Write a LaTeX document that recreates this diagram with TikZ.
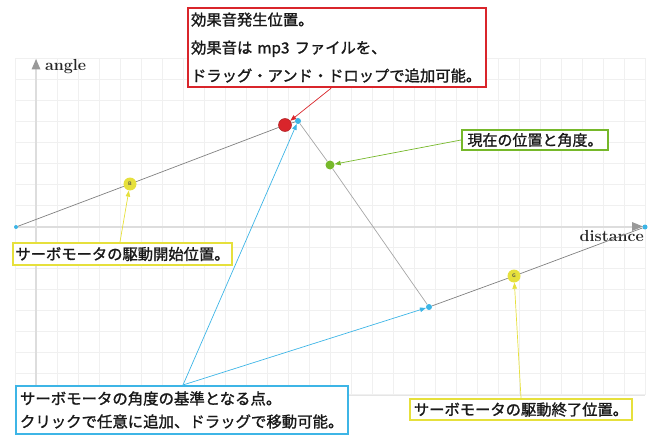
\documentclass[tikz,border=0pt]{standalone}
\usepackage{fontspec}
\newfontfamily\cjk{Noto Sans CJK JP}[FakeBold=1.3]
\usetikzlibrary{arrows.meta}
\definecolor{cred}{HTML}{D9252B}
\definecolor{cgreen}{HTML}{76B82A}
\definecolor{cyel}{HTML}{E6E03C}
\definecolor{ccyan}{HTML}{3DB5E6}
\definecolor{gridc}{HTML}{F0F0F0}
\definecolor{axisc}{HTML}{DDDDDD}
\definecolor{tric}{HTML}{999999}
\tikzset{
  gridline/.style={draw=gridc, line width=0.6pt},
  axisline/.style={draw=axisc, line width=1.5pt},
  curvedark/.style={draw=black!50, line width=0.7pt},
  curvelight/.style={draw=black!35, line width=0.7pt},
  dot/.style={circle, inner sep=0pt, minimum size=#1},
  callout/.style={line width=0.7pt, -{Triangle[length=6pt,width=4.5pt]}},
  cjkbox/.style={draw, line width=2pt, fill=white, inner sep=0pt, text=black!90,
    font=\cjk\fontsize{15.3}{18}\selectfont},
  letter/.style={font=\sffamily\bfseries\fontsize{5}{5}\selectfont, text=black!70}
}
\begin{document}
\begin{tikzpicture}[x=1pt,y=-1pt]
\useasboundingbox (0,0) rectangle (659,436);
% grid
\foreach \x in {15,36,...,645} \draw[gridline] (\x,58) -- (\x,395);
\foreach \y in {58,79,...,394} \draw[gridline] (15,\y) -- (645,\y);
\draw[draw=black!10, line width=0.8pt] (15,395) -- (645,395);
% axes
\draw[axisline] (36,69) -- (36,395);
\draw[axisline] (15,227) -- (638,227);
\fill[tric] (31.5,69.5) -- (36,59) -- (40.5,69.5) -- cycle;
\fill[tric] (632,222) -- (643,226.5) -- (632,231) -- cycle;
\node[anchor=base west, inner sep=0pt, text=black!85, font=\fontsize{16}{18}\bfseries\selectfont] (anglelbl) at (45,70.5) {angle};
\node[anchor=base east, inner sep=0pt, text=black!85, font=\fontsize{16}{18}\bfseries\selectfont] (distlbl) at (644,241.5) {distance};
% points
\node[dot=4pt, fill=ccyan] (p0) at (16,227) {};
\node[dot=13pt, fill=cyel, letter] (pB) at (130,184) {B};
\node[dot=13pt, fill=cred, draw=cred!80!black, line width=0.5pt] (pS) at (285,125) {};
\node[dot=6pt, fill=ccyan] (p1) at (298,121) {};
\node[dot=9pt, fill=cgreen] (pC) at (330,165) {};
\node[dot=6pt, fill=ccyan] (p2) at (429,307) {};
\node[dot=13pt, fill=cyel, letter] (pG) at (514,276) {G};
\node[dot=5pt, fill=ccyan] (pE) at (645,227) {};
% motion path
\draw[curvedark] (p0) -- (pB);
\draw[curvedark] (pB) -- (pS);
\draw[curvedark] (pS) -- (p1);
\draw[curvelight] (p1) -- (pC);
\draw[curvelight] (pC) -- (p2);
\draw[curvedark] (p2) -- (pG);
\draw[curvedark] (pG) -- (pE);
% boxes
\node[cjkbox, draw=cred, line width=2.2pt, anchor=north west, align=left,
  text width=292pt, inner xsep=3pt, inner ysep=0pt, minimum height=79pt,
  font=\cjk\fontsize{15.3}{28}\selectfont] (sfxbox) at (187,7)
  {効果音発生位置。\\効果音は mp3 ファイルを、\\ドラッグ・アンド・ドロップで追加可能。};
\node[cjkbox, draw=cgreen, minimum width=146pt, minimum height=20pt,
  font=\cjk\fontsize{15}{18}\selectfont] (curbox) at (535,140) {現在の位置と角度。};
\node[cjkbox, draw=cyel, minimum width=219pt, minimum height=22pt] (startbox) at (122.5,254) {サーボモータの駆動開始位置。};
\node[cjkbox, draw=cyel, minimum width=222pt, minimum height=21pt] (endbox) at (521,409.5) {サーボモータの駆動終了位置。};
\node[cjkbox, draw=ccyan, anchor=north west, align=left, text width=324pt,
  inner xsep=4pt, inner ysep=0pt, minimum height=48pt,
  font=\cjk\fontsize{15.4}{23}\selectfont] (refbox) at (15,385)
  {サーボモータの角度の基準となる点。\\クリックで任意に追加、ドラッグで移動可能。};
% callouts
\draw[callout, cred] ([xshift=-6pt]sfxbox.south) -- (pS);
\draw[callout, cgreen] (curbox.west) -- (pC);
\draw[callout, cyel] ([xshift=-2.5pt]startbox.north) -- (pB);
\draw[callout, cyel] (endbox.north) -- (pG);
\draw[callout, ccyan] ([xshift=1pt]refbox.north) -- (p1);
\draw[callout, ccyan] ([xshift=1pt]refbox.north) -- (p2);
\end{tikzpicture}
\end{document}
